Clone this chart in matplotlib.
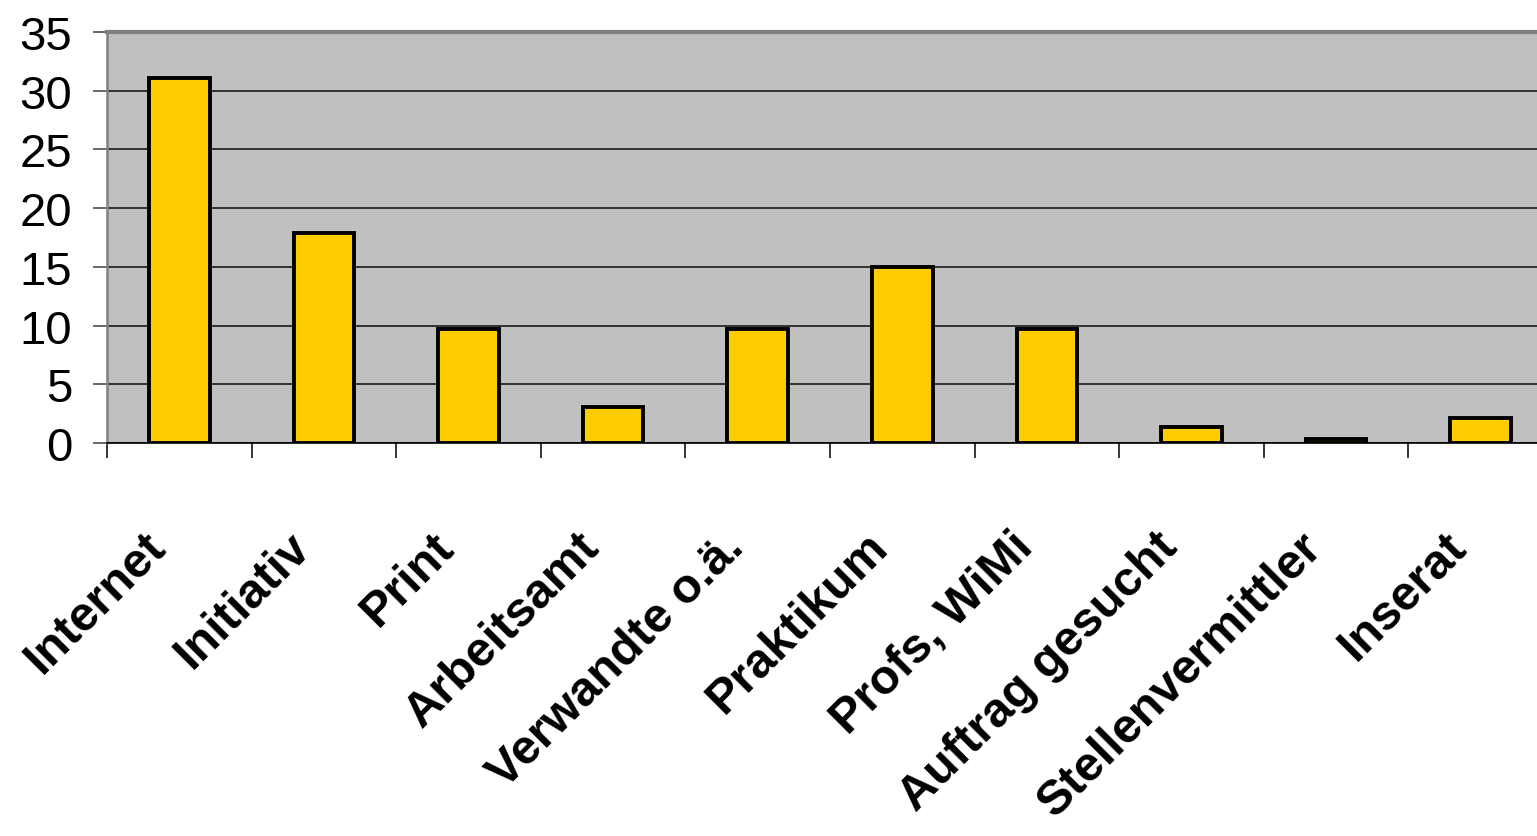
import numpy as np
import matplotlib
matplotlib.use('Agg')
import matplotlib.pyplot as plt
import matplotlib.transforms as mtransforms


# answers per channel (how the job was found)
channels = ['Internet', 'Initiativ', 'Print', 'Arbeitsamt', 'Verwandte o.ä.',
            'Praktikum', 'Profs, WiMi', 'Auftrag gesucht', 'Stellenvermittler', 'Inserat']
shares = [31.1, 17.9, 9.7, 3.1, 9.7, 15.0, 9.7, 1.4, 0.3, 2.1]
y_ticks = [0, 5, 10, 15, 20, 25, 30, 35]

plt.rcParams['font.family'] = ['Liberation Sans', 'DejaVu Sans']

W, H = 1537, 837
fig = plt.figure(figsize=[W / 100, H / 100], dpi=100)
fig.patch.set_facecolor('white')

# plot area runs past the right border, like the old excel export
left, right, top, bottom = 107, 1553, 33, 444
ax = fig.add_axes([left / W, 1 - bottom / H, (right - left) / W, (bottom - top) / H])
ax.set_facecolor('#c0c0c0')

x = np.arange(len(channels))
ax.bar(x, shares, width=0.42, color='#ffcc00', edgecolor='black', linewidth=2.8, zorder=3)

ax.set_xlim(-0.5, len(channels) - 0.5)
ax.set_ylim(0, 35)

# grid
ax.set_yticks(y_ticks)
ax.yaxis.grid(True, color='#1a1a1a', linewidth=1.2, zorder=1)
ax.set_axisbelow(True)
ax.tick_params(axis='y', length=10, width=1.1, color='#404040', pad=15, labelsize=34)

# category boundaries get the tick marks, labels sit at the centres
ax.set_xticks(np.arange(len(channels) + 1) - 0.5, minor=True)
ax.tick_params(axis='x', which='minor', length=11, width=1.1, color='black')
ax.set_xticks(x)
ax.set_xticklabels(channels, rotation=45, ha='right', va='top',
                   fontsize=35, fontweight='bold')
ax.tick_params(axis='x', which='major', length=0, pad=58)
shift = mtransforms.ScaledTranslation(-5 / 100, 0, fig.dpi_scale_trans)
for lbl in ax.get_xticklabels():
    lbl.set_transform(lbl.get_transform() + shift)

for side in ['top', 'left']:
    ax.spines[side].set_color('#808080')
ax.spines['top'].set_linewidth(3)
ax.spines['left'].set_linewidth(1.8)
ax.spines['bottom'].set_color('black')
ax.spines['bottom'].set_linewidth(1.2)
ax.spines['right'].set_visible(False)

fig.savefig('out.png', dpi=100)
